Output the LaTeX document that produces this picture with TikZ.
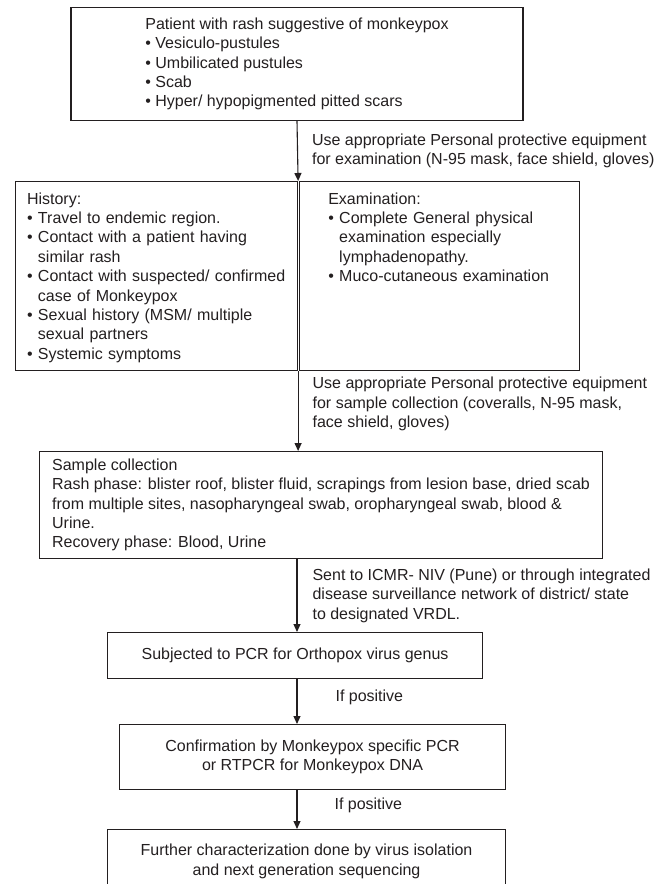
\documentclass[tikz,border=0pt]{standalone}
\usepackage{fontspec}
\setmainfont{Liberation Sans}
\usetikzlibrary{arrows.meta}
\definecolor{ink}{HTML}{231F20}

\begin{document}
\begin{tikzpicture}[
        x=1pt,y=-1pt,
        every node/.style={font=\fontsize{16}{19.4}\selectfont,text=ink},
        box/.style={draw=ink,line width=1.1pt,align=left,inner sep=0pt},
        panel/.style={box,anchor=north west,text height=12pt,text depth=156pt,inner ysep=10.5pt},
        flow/.style={draw=ink,line width=1.1pt,-{Triangle[length=8pt,width=7pt]}},
        note/.style={align=left,inner sep=0pt,anchor=west}
    ]
        \useasboundingbox
        (0,0) rectangle (669,884)
        ;
        \clip
        (0,0) rectangle (669,884)
        ;
        \coordinate (spine) at (297,0);
        \node[box,anchor=north,minimum width=452pt,minimum height=113pt] (patient) at (297,7)
        {Patient with rash suggestive of monkeypox\\
        \textbullet\ Vesiculo-pustules\\
        \textbullet\ Umbilicated pustules\\
        \textbullet\ Scab\\
        \textbullet\ Hyper/ hypopigmented pitted scars}
        ;
        \node[panel,text width=259pt,minimum width=282pt] (history) at (15,181)
        {History:\\
        \textbullet\ Travel to endemic region.\\
        \textbullet\ Contact with a patient having\\
        \phantom{\textbullet\ }similar rash\\
        \textbullet\ Contact with suspected/ confirmed\\
        \phantom{\textbullet\ }case of Monkeypox\\
        \textbullet\ Sexual history (MSM/ multiple\\
        \phantom{\textbullet\ }sexual partners\\
        \textbullet\ Systemic symptoms}
        ;
        \node[panel,text width=222pt,minimum width=280.5pt] (exam) at (298.5,181)
        {Examination:\\
        \textbullet\ Complete General physical\\
        \phantom{\textbullet\ }examination especially\\
        \phantom{\textbullet\ }lymphadenopathy.\\
        \textbullet\ Muco-cutaneous examination}
        ;
        \node[box,anchor=north west,minimum width=563pt,minimum height=107pt] (sample) at (39,451)
        {Sample collection\\
        Rash phase: blister roof, blister fluid, scrapings from lesion base, dried scab\\
        from multiple sites, nasopharyngeal swab, oropharyngeal swab, blood \&\\
        Urine.\\
        Recovery phase: Blood, Urine}
        ;
        \node[box,anchor=north west,minimum width=375pt,minimum height=46pt] (pcr) at (107,632)
        {Subjected to PCR for Orthopox virus genus}
        ;
        \node[box,align=center,anchor=north west,minimum width=386pt,minimum height=65pt] (confirm) at (119,724)
        {Confirmation by Monkeypox specific PCR\\
        or RTPCR for Monkeypox DNA}
        ;
        \node[box,align=center,anchor=north west,minimum width=398pt,minimum height=64pt] (further) at (107,829)
        {Further characterization done by virus isolation\\
        and next generation sequencing}
        ;
        \draw[flow]
        (patient.south) -- (history.north east) node[note,midway,xshift=14pt] (ppe1)
        {Use appropriate Personal protective equipment\\
        for examination (N-95 mask, face shield, gloves)}
        ;
        \draw[flow]
        (history.south east) -- (history.south east |- sample.north) node[note,pos=0.41,xshift=14pt] (ppe2)
        {Use appropriate Personal protective equipment\\
        for sample collection (coveralls, N-95 mask,\\
        face shield, gloves)}
        ;
        \draw[flow]
        (sample.south -| spine) -- (pcr.north -| spine) node[note,midway,xshift=15pt] (ship)
        {Sent to ICMR- NIV (Pune) or through integrated\\
        disease surveillance network of district/ state\\
        to designated VRDL.}
        ;
        \draw[flow]
        (pcr.south -| spine) -- (confirm.north -| spine) node[note,pos=0.41,xshift=38pt] (pos1) {If positive}
        ;
        \draw[flow]
        (confirm.south -| spine) -- (further.north -| spine) node[note,pos=0.4,xshift=37pt] (pos2) {If positive}
        ;
    \end{tikzpicture}
\end{document}
